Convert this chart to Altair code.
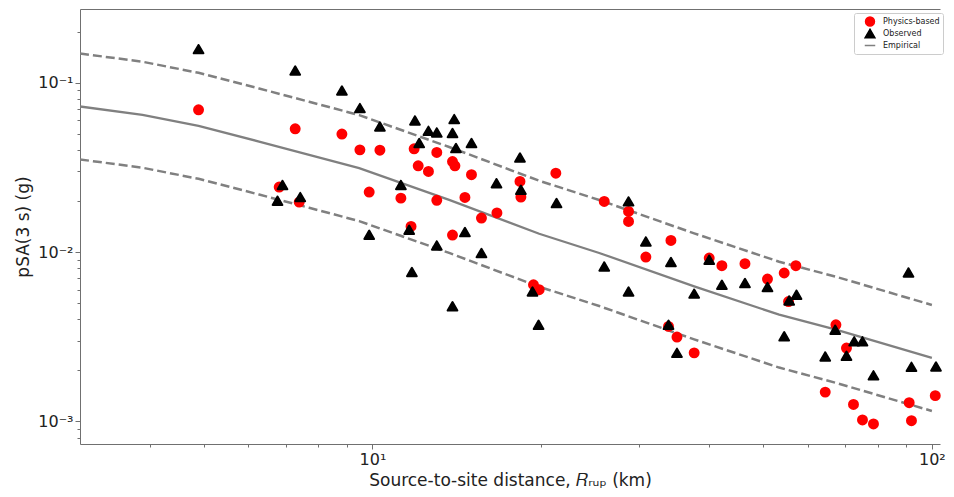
import altair as alt
import pandas as pd

# ---- data ----
phys_dist = [4.887, 7.275, 8.817, 9.495, 10.31, 11.87, 13.03, 13.90, 14.04, 12.07,
             12.59, 15.03, 21.27, 18.35, 18.42, 9.865, 11.24, 13.03, 14.63, 15.66,
             16.69, 11.72, 13.90, 19.40, 19.86, 6.811, 7.396, 25.96, 28.69, 28.69,
             34.16, 30.81, 39.99, 42.13, 46.33, 50.83, 33.82, 35.02, 37.59, 54.45,
             57.13, 55.43, 67.37, 70.36, 64.47, 72.42, 75.15, 78.63, 91.08, 91.94,
             101.4]
phys_psa = [0.0691, 0.0534, 0.0497, 0.0401, 0.0399, 0.0407, 0.0387, 0.0342, 0.0323, 0.0323,
            0.0299, 0.0286, 0.0292, 0.0261, 0.0211, 0.0226, 0.0208, 0.0202, 0.0210, 0.01588,
            0.0170, 0.01416, 0.0126, 0.00641, 0.00599, 0.0242, 0.0197, 0.0199, 0.01736, 0.01516,
            0.0117, 0.00934, 0.00922, 0.0083, 0.00853, 0.00693, 0.00364, 0.00315, 0.00254, 0.00752,
            0.0083, 0.0051, 0.00372, 0.00271, 0.00149, 0.00126, 0.00102, 0.000967, 0.00129, 0.00101,
            0.00142]

obs_dist = [4.887, 7.275, 8.817, 9.495, 10.31, 11.91, 12.59, 13.03, 14.00, 13.90,
            12.12, 14.10, 15.03, 18.35, 18.42, 16.66, 11.24, 21.33, 11.63, 9.865,
            14.63, 13.03, 15.66, 11.76, 19.32, 13.90, 19.81, 6.904, 6.764, 7.428,
            28.69, 30.81, 34.16, 25.96, 28.69, 39.99, 42.13, 46.33, 37.59, 50.83,
            33.82, 35.02, 55.58, 57.28, 54.45, 90.82, 67.17, 72.63, 75.15, 70.36,
            64.47, 78.63, 91.94, 101.7]
obs_psa = [0.1576, 0.1179, 0.0898, 0.0707, 0.0551, 0.0598, 0.0519, 0.0508, 0.0609, 0.0504,
           0.0440, 0.0411, 0.0440, 0.0361, 0.0233, 0.0255, 0.0249, 0.01946, 0.01354, 0.01265,
           0.01312, 0.01094, 0.00987, 0.00762, 0.00585, 0.00478, 0.00372, 0.0249, 0.0201, 0.0211,
           0.0199, 0.01155, 0.00873, 0.00822, 0.00585, 0.00901, 0.00641, 0.00656, 0.00568, 0.00622,
           0.00372, 0.00254, 0.00518, 0.0056, 0.00318, 0.00758, 0.00348, 0.00297, 0.00297, 0.00244,
           0.00242, 0.00187, 0.0021, 0.00211]

emp_dist = [3.0, 3.88, 4.887, 6.27, 7.705, 9.467, 13.71, 19.86, 25.43, 37.59, 53.33, 67.37, 100.0]
emp_median = [0.0723, 0.0646, 0.0556, 0.0449, 0.0375, 0.0313, 0.0203, 0.01282, 0.00987,
              0.00627, 0.00427, 0.00348, 0.00237]
emp_upper = [0.1486, 0.1328, 0.1143, 0.0923, 0.0771, 0.0643, 0.0417, 0.02635, 0.02028,
             0.01289, 0.00877, 0.00715, 0.00487]
emp_lower = [0.0352, 0.03144, 0.02706, 0.02185, 0.01825, 0.01523, 0.00988, 0.00624, 0.0048,
             0.00305, 0.00208, 0.00169, 0.001153]

series_names = ["Physics-based", "Observed", "Empirical"]
series_colors = ["#ff0000", "#000000", "#808080"]
series_shapes = ["circle", "triangle-up", "stroke"]
series_sizes = [80, 110, 110]

x_ticks = [4, 5, 6, 7, 8, 9, 10, 20, 30, 40, 50, 60, 70, 80, 90, 100]
y_ticks = [0.0008, 0.0009, 0.001, 0.002, 0.003, 0.004, 0.005, 0.006, 0.007, 0.008, 0.009,
           0.01, 0.02, 0.03, 0.04, 0.05, 0.06, 0.07, 0.08, 0.09, 0.1, 0.2]

# ---- tables ----
pts_df = pd.concat([
    pd.DataFrame({"dist": phys_dist, "psa": phys_psa, "series": "Physics-based"}),
    pd.DataFrame({"dist": obs_dist, "psa": obs_psa, "series": "Observed"}),
], ignore_index=True)
med_df = pd.DataFrame({"dist": emp_dist, "psa": emp_median, "band": "median"})
band_df = pd.concat([
    pd.DataFrame({"dist": emp_dist, "psa": emp_upper, "band": "upper"}),
    pd.DataFrame({"dist": emp_dist, "psa": emp_lower, "band": "lower"}),
], ignore_index=True)

FONT = "DejaVu Sans"
AX = "#707070"

x_scale = alt.Scale(type="log", domain=[3, 103.4], nice=False)
y_scale = alt.Scale(type="log", domain=[0.000736, 0.272], nice=False)

x_axis = alt.Axis(
    title="Source-to-site distance, 𝑅ᵣᵤₚ (km)",
    values=x_ticks,
    labelExpr="datum.value == 10 ? '10¹' : datum.value == 100 ? '10²' : ''",
    tickSize={"condition": {"test": "datum.value == 10 || datum.value == 100", "value": 5}, "value": 3},
    grid=False, labelFlush=False, labelOverlap=False,
    labelFontSize=16, titleFontSize=17, labelPadding=2, titlePadding=5,
)
x_top_axis = alt.Axis(orient="top", labels=False, ticks=False, title=None, grid=False, domain=True)
y_axis = alt.Axis(
    title="pSA(3 s) (g)",
    values=y_ticks,
    labelExpr="datum.value == 0.1 ? '10⁻¹' : datum.value == 0.01 ? '10⁻²' : datum.value == 0.001 ? '10⁻³' : ''",
    tickSize={"condition": {"test": "datum.value == 0.1 || datum.value == 0.01 || datum.value == 0.001", "value": 5}, "value": 3},
    grid=False, labelFlush=False, labelOverlap=False,
    labelFontSize=16, titleFontSize=17, labelPadding=2, titlePadding=5,
)

legend = alt.Legend(
    title=None, orient="none", legendX=774, legendY=4,
    fillColor="white", strokeColor="#cccccc", padding=3, cornerRadius=2,
    labelFontSize=8, labelFont=FONT, labelColor="#222222",
    symbolOffset=7, labelOffset=7, rowPadding=1, clipHeight=11,
)

enc_field = "series:N"
color_enc = alt.Color(enc_field, scale=alt.Scale(domain=series_names, range=series_colors), legend=legend)
fill_enc = alt.Fill(enc_field, scale=alt.Scale(domain=series_names, range=series_colors), legend=legend)
shape_enc = alt.Shape(enc_field, scale=alt.Scale(domain=series_names, range=series_shapes), legend=legend)
size_enc = alt.Size(enc_field, scale=alt.Scale(domain=series_names, range=series_sizes), legend=legend)

band = alt.Chart(band_df).mark_line(color="#808080", strokeWidth=2.5, strokeDash=[9, 4], clip=True).encode(
    x=alt.X("dist:Q", scale=x_scale, axis=x_axis),
    y=alt.Y("psa:Q", scale=y_scale, axis=y_axis),
    detail="band:N",
)
median = alt.Chart(med_df).mark_line(color="#808080", strokeWidth=2.3, clip=True).encode(
    x=alt.X("dist:Q", scale=x_scale, axis=None),
    y=alt.Y("psa:Q", scale=y_scale, axis=y_axis),
)
points = alt.Chart(pts_df).mark_point(filled=False, opacity=1, strokeWidth=2, strokeJoin="round").encode(
    x=alt.X("dist:Q", scale=x_scale, axis=None),
    y=alt.Y("psa:Q", scale=y_scale, axis=y_axis),
    color=color_enc, fill=fill_enc, shape=shape_enc, size=size_enc,
    order=alt.Order("series:N", sort="descending"),
)
frame_top = alt.Chart(med_df).mark_line(opacity=0).encode(
    x=alt.X("dist:Q", scale=x_scale, axis=x_top_axis),
    y=alt.Y("psa:Q", scale=y_scale, axis=y_axis),
)

chart = alt.layer(band, median, points, frame_top).resolve_axis(x="independent").properties(
    width=860, height=435,
    autosize=alt.AutoSizeParams(type="none"),
    padding={"left": 72, "top": 1, "right": 6, "bottom": 45},
    background="white",
).configure_view(
    strokeWidth=0,
).configure_axis(
    labelFont=FONT, titleFont=FONT, labelColor="#222222", titleColor="#222222",
    titleFontWeight="normal", domainColor=AX, tickColor=AX, domainWidth=1, tickWidth=1,
)

chart.save("out.html", embed_options={"renderer": "svg", "actions": False})
